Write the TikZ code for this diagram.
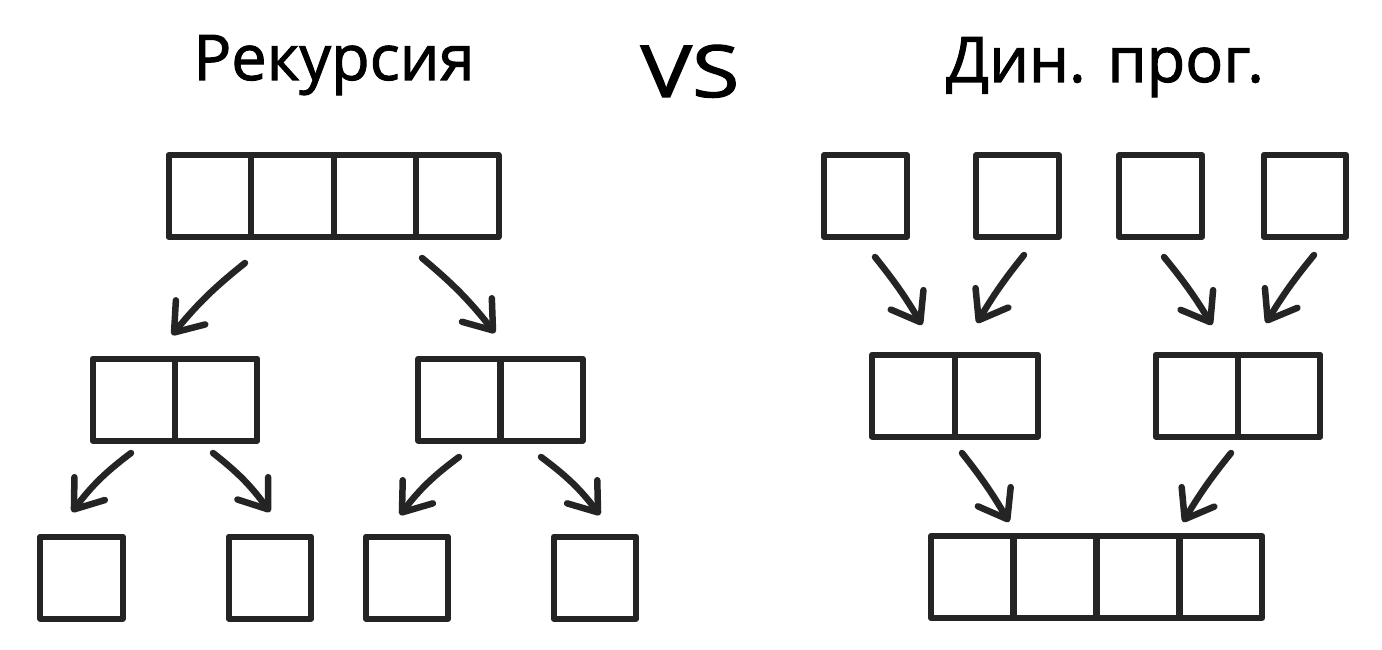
\documentclass[tikz,border=0pt]{standalone}
\usepackage{fontspec}
\setmainfont{Open Sans}
\newfontfamily\titlefont{Open Sans}[FakeBold=1.6]
\usetikzlibrary{arrows.meta}
\definecolor{ink}{RGB}{36,36,36}
\begin{document}
\begin{tikzpicture}[x=1pt,y=-1pt,
  cell/.style={draw=ink, line width=6pt, minimum width=82.5pt, minimum height=82pt, inner sep=0pt, line join=round},
  arr/.style={draw=ink, line width=6.5pt, line cap=round,
    -{Straight Barb[length=26pt, width=38pt, line cap=round, line join=round]}},
  title/.style={font=\titlefont\fontsize{63}{70}\selectfont, anchor=base, inner sep=0pt}]
\useasboundingbox (0,0) rectangle (1382,650);
\fill[white] (0,0) rectangle (1382,650);
% titles
\node[title] (t1) at (334,80) {Рекурсия};
\node[title, font=\titlefont\fontsize{72}{80}\selectfont] (t2) at (690,97) {\scalebox{1.2}[1]{VS}};
\node[title] (t3) at (1105,82) {Дин. прог.};
% ---- left: recursion ----
\foreach \i/\x in {1/209.75,2/292.25,3/374.75,4/457.25}
  \node[cell] (la\i) at (\x,196) {};
\node[cell] (lb1) at (133.9,399.5) {};
\node[cell] (lb2) at (216.1,399.5) {};
\node[cell] (lc1) at (459.6,399.5) {};
\node[cell] (lc2) at (541.4,399.5) {};
\node[cell] (ld1) at (81.5,577.5) {};
\node[cell] (ld2) at (270,577.5) {};
\node[cell] (ld3) at (407,577.5) {};
\node[cell] (ld4) at (595,577.5) {};
% ---- right: dynamic programming ----
\node[cell] (ra1) at (865.5,196) {};
\node[cell] (ra2) at (1017.5,196) {};
\node[cell] (ra3) at (1160.5,196) {};
\node[cell] (ra4) at (1305,196) {};
\node[cell] (rb1) at (913.4,395.5) {};
\node[cell] (rb2) at (996.6,395.5) {};
\node[cell] (rc1) at (1196.9,395.5) {};
\node[cell] (rc2) at (1279.1,395.5) {};
\foreach \i/\x in {1/972.2,2/1055.1,3/1138,4/1220.9}
  \node[cell] (rd\i) at (\x,577) {};
% arrow end points
\coordinate (L1s) at (245,263); \coordinate (L1e) at (172,335);
\coordinate (L2s) at (422,258); \coordinate (L2e) at (495,333);
\coordinate (L3s) at (131,453); \coordinate (L3e) at (72,512);
\coordinate (L4s) at (213,453); \coordinate (L4e) at (270,512);
\coordinate (L5s) at (459,457); \coordinate (L5e) at (400,515);
\coordinate (L6s) at (541,457); \coordinate (L6e) at (600,515);
\coordinate (R1s) at (875,257); \coordinate (R1e) at (922,325);
\coordinate (R2s) at (1024,255); \coordinate (R2e) at (977,323);
\coordinate (R3s) at (1164,257); \coordinate (R3e) at (1212,325);
\coordinate (R4s) at (1314,255); \coordinate (R4e) at (1266,323);
\coordinate (R5s) at (962,453); \coordinate (R5e) at (1009,522);
\coordinate (R6s) at (1231,453); \coordinate (R6e) at (1183,522);
% arrows
\draw[arr] (L1s) to[bend right=6] (L1e);
\draw[arr] (L2s) to[bend left=6] (L2e);
\draw[arr] (L3s) to[bend right=8] (L3e);
\draw[arr] (L4s) to[bend left=8] (L4e);
\draw[arr] (L5s) to[bend right=8] (L5e);
\draw[arr] (L6s) to[bend left=8] (L6e);
\draw[arr] (R1s) to[bend left=4] (R1e);
\draw[arr] (R2s) to[bend right=4] (R2e);
\draw[arr] (R3s) to[bend left=4] (R3e);
\draw[arr] (R4s) to[bend right=4] (R4e);
\draw[arr] (R5s) to[bend left=4] (R5e);
\draw[arr] (R6s) to[bend right=4] (R6e);
\end{tikzpicture}
\end{document}
